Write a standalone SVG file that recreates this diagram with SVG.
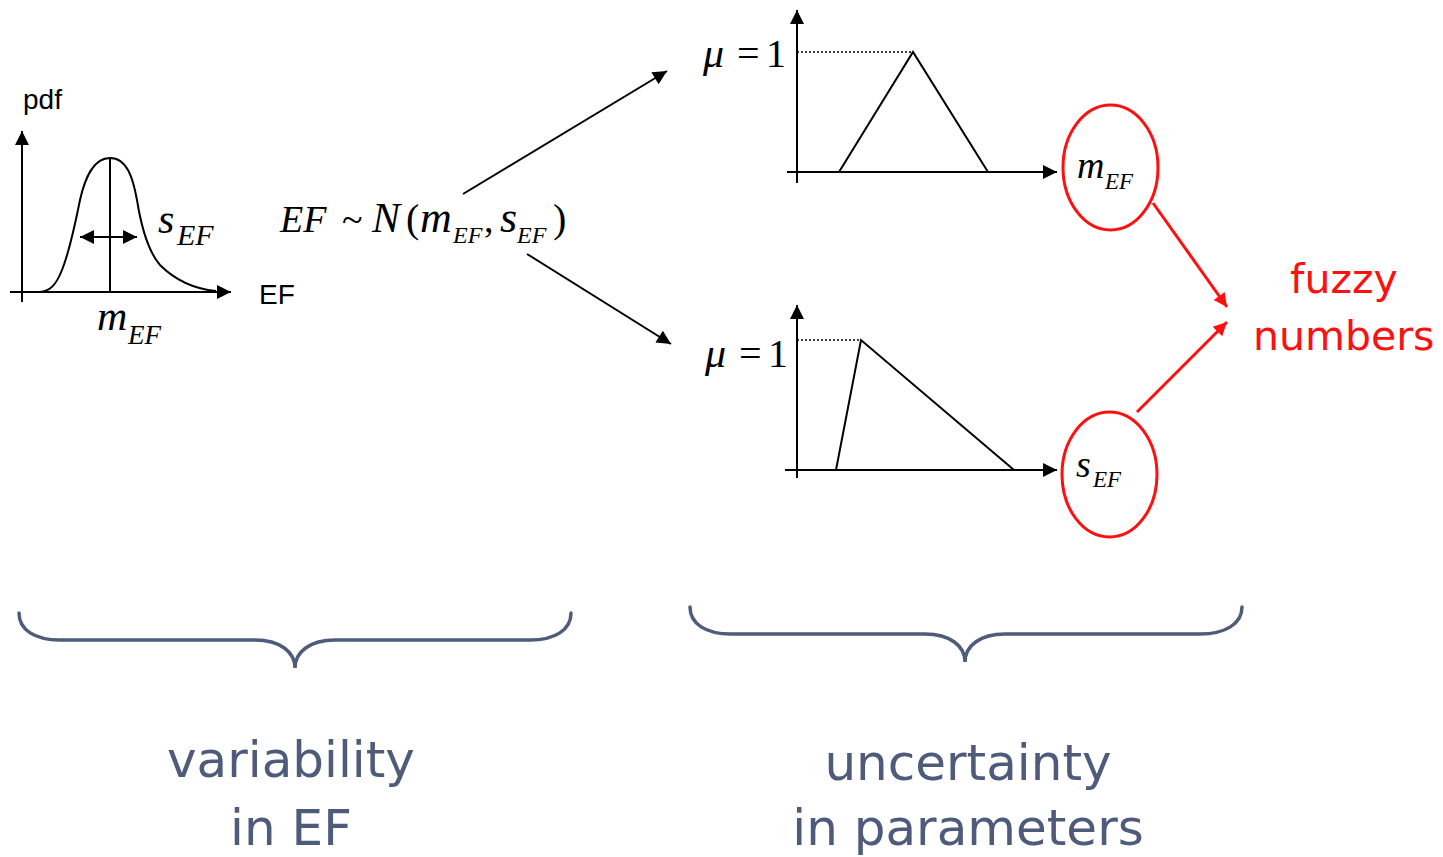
<svg xmlns="http://www.w3.org/2000/svg" width="1443" height="857" viewBox="0 0 1443 857">
<style>
.ln{stroke:#000;stroke-width:2;fill:none}
.dot{stroke:#000;stroke-width:1.3;stroke-dasharray:2 2;fill:none}
.red{stroke:#ff1010;stroke-width:3;fill:none}
.brace{stroke:#4f5b7b;stroke-width:3.5;fill:none;stroke-linecap:round}
.m{font-family:"Liberation Serif","Times New Roman",serif;fill:#000}
.i{font-style:italic}
.sans{font-family:"Liberation Sans",Arial,sans-serif;fill:#000;font-size:28px}
.cap{font-family:"DejaVu Sans",Verdana,sans-serif;fill:#4f5b7b;font-size:50px}
.fz{font-family:"DejaVu Sans",Verdana,sans-serif;fill:#ff1010;font-size:41px}
</style>
<defs>
<marker id="ahs" viewBox="0 0 10 10" refX="10" refY="5" markerWidth="7.5" markerHeight="7" markerUnits="strokeWidth" orient="auto-start-reverse"><path d="M0,0 L10,5 L0,10 z" fill="#000"/></marker>
<marker id="ahr" viewBox="0 0 10 10" refX="10" refY="5" markerWidth="5" markerHeight="4.5" markerUnits="strokeWidth" orient="auto"><path d="M0,0 L10,5 L0,10 z" fill="#ff1010"/></marker>
</defs>

<g id="pdf-chart">
<line class="ln" x1="22" y1="302" x2="22" y2="131" marker-end="url(#ahs)"/>
<line class="ln" x1="10" y1="292" x2="231" y2="292" marker-end="url(#ahs)"/>
<path class="ln" d="M38,292 C50,292 56,285 62,270 C70,250 75,225 80,200 C85,178 93,158 110,158 C127,158 133,178 137,200 C141,225 147,250 160,265 C175,280 195,289 216,291"/>
<line class="ln" x1="110" y1="158" x2="110" y2="292"/>
<line class="ln" x1="80" y1="237" x2="137" y2="237" marker-start="url(#ahs)" marker-end="url(#ahs)"/>
<text class="sans" x="23" y="109">pdf</text>
<text class="sans" x="259" y="304">EF</text>
<text class="m i" x="158" y="233" font-size="42">s</text>
<text class="m i" x="177" y="245" font-size="30">EF</text>
<text class="m i" x="97" y="330" font-size="42">m</text>
<text class="m i" x="128" y="344" font-size="27">EF</text>
</g>

<g id="formula">
<text class="m i" x="280" y="232" font-size="38">EF</text>
<text class="m" x="342" y="232" font-size="38">~</text>
<text class="m i" x="372" y="232" font-size="42">N</text>
<text class="m" x="406" y="232" font-size="40">(</text>
<text class="m i" x="420" y="232" font-size="44">m</text>
<text class="m i" x="453" y="243" font-size="24">EF</text>
<text class="m" x="484" y="232" font-size="38">,</text>
<text class="m i" x="500" y="232" font-size="44">s</text>
<text class="m i" x="517" y="243" font-size="24">EF</text>
<text class="m" x="553" y="232" font-size="40">)</text>
</g>

<g id="fuzzy-mean">
<line class="ln" x1="797" y1="183" x2="797" y2="10" marker-end="url(#ahs)"/>
<line class="ln" x1="787" y1="172" x2="1057" y2="172" marker-end="url(#ahs)"/>
<polyline class="ln" points="839,172 913,52 988,172"/>
<line class="dot" x1="797" y1="52" x2="913" y2="52"/>
<text class="m i" x="703" y="67" font-size="42">μ</text>
<text class="m" x="737" y="67" font-size="40">=</text>
<text class="m" x="766" y="67" font-size="40">1</text>
</g>

<g id="fuzzy-sd">
<line class="ln" x1="797" y1="478" x2="797" y2="305" marker-end="url(#ahs)"/>
<line class="ln" x1="785" y1="470" x2="1057" y2="470" marker-end="url(#ahs)"/>
<polyline class="ln" points="836,470 861,340 1014,470"/>
<line class="dot" x1="797" y1="340" x2="861" y2="340"/>
<text class="m i" x="705" y="367" font-size="42">μ</text>
<text class="m" x="739" y="367" font-size="40">=</text>
<text class="m" x="768" y="367" font-size="40">1</text>
</g>

<g id="node-m">
<ellipse class="red" cx="1110.5" cy="167.5" rx="47.5" ry="62.5"/>
<text class="m i" x="1077" y="178" font-size="38">m</text>
<text class="m i" x="1105" y="189" font-size="23">EF</text>
</g>

<g id="node-s">
<ellipse class="red" cx="1109.5" cy="474.5" rx="47.5" ry="62.5"/>
<text class="m i" x="1076" y="477" font-size="38">s</text>
<text class="m i" x="1093" y="487" font-size="23">EF</text>
</g>

<g id="fuzzy-label">
<text class="fz" x="1290" y="293">fuzzy</text>
<text class="fz" x="1253" y="350">numbers</text>
</g>

<g id="connectors">
<line class="ln" x1="463" y1="194" x2="667" y2="71" marker-end="url(#ahs)"/>
<line class="ln" x1="527" y1="254" x2="671" y2="344" marker-end="url(#ahs)"/>
<line class="red" x1="1153" y1="203" x2="1227" y2="307" marker-end="url(#ahr)"/>
<line class="red" x1="1137" y1="412" x2="1227" y2="322" marker-end="url(#ahr)"/>
</g>

<g id="brace-left">
<path class="brace" d="M19,613 C19,630 35,640 60,640 L255,640 C280,640 295,652 295,668 C295,652 310,640 335,640 L530,640 C555,640 571,630 571,613"/>
<text class="cap" x="291" y="777" text-anchor="middle">variability</text>
<text class="cap" x="291" y="845" text-anchor="middle">in EF</text>
</g>

<g id="brace-right">
<path class="brace" d="M690,607 C690,624 706,634 731,634 L925,634 C950,634 965,646 965,662 C965,646 980,634 1005,634 L1200,634 C1225,634 1242,624 1242,607"/>
<text class="cap" x="968" y="780" text-anchor="middle">uncertainty</text>
<text class="cap" x="968" y="845" text-anchor="middle">in parameters</text>
</g>
</svg>
